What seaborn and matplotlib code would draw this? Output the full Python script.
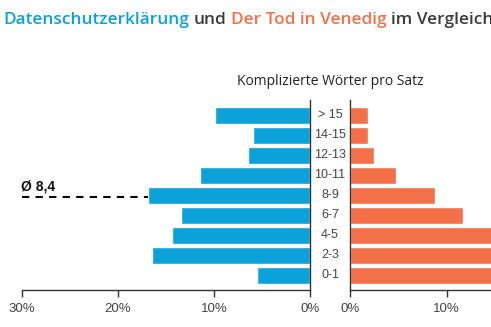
import matplotlib
matplotlib.use("Agg")
import matplotlib.pyplot as plt
import matplotlib.transforms as mtransforms
import seaborn as sns
import pandas as pd

categories = ["> 15", "14-15", "12-13", "10-11", "8-9", "6-7", "4-5", "2-3", "0-1"]
datenschutz = [9.9, 5.9, 6.4, 11.4, 16.8, 13.4, 14.4, 16.4, 5.5]
tod_venedig = [1.8, 1.8, 2.5, 4.7, 8.8, 11.7, 17.0, 19.5, 15.5]
left_ticks = [30, 20, 10, 0]
right_ticks = [0, 10]
average = 8.4
average_label = "Ø 8,4"

title_parts = [("Datenschutzerklärung", "#0ca1d8"), ("und", "#3a3a3a"),
               ("Der Tod in Venedig", "#f37048"), ("im Vergleich", "#3a3a3a")]
subtitle = "Komplizierte Wörter pro Satz"

BLUE = "#0ca1d8"
ORANGE = "#f37048"
AX_COL = "#333333"
TXT_COL = "#444444"

sns.set_theme(style="white")
plt.rcParams["font.family"] = ["Liberation Sans", "DejaVu Sans"]

df = pd.DataFrame({"cat": categories, "ds": datenschutz, "tv": tod_venedig})

W, H = 491, 327
fig = plt.figure(figsize=(W / 100, H / 100), dpi=100)

def fx(px):
    return px / W

def fy(py):
    return 1 - py / H

ax_l = fig.add_axes([fx(21.5), fy(290), fx(310 - 21.5), (290 - 100) / H])
ax_r = fig.add_axes([fx(350.3), fy(290), fx(96.4 * 2), (290 - 100) / H])

sns.barplot(data=df, y="cat", x="ds", orient="h", color=BLUE, saturation=1,
            width=0.83, ax=ax_l, order=categories)
sns.barplot(data=df, y="cat", x="tv", orient="h", color=ORANGE, saturation=1,
            width=0.83, ax=ax_r, order=categories)

for ax in (ax_l, ax_r):
    ax.set_ylim(len(categories) - 1 + 0.735, -0.765)
    ax.set_xlabel("")
    ax.set_ylabel("")
    ax.set_yticks([])
    ax.spines["top"].set_visible(False)
    for s in ax.spines.values():
        s.set_color(AX_COL)
        s.set_linewidth(1.0)
    ax.tick_params(axis="x", direction="out", length=5, width=1.0, color=AX_COL,
                   labelsize=9.5, labelcolor=TXT_COL, pad=4, bottom=True)
    ax.patch.set_alpha(0)

ax_l.set_xlim(30, 0)
ax_l.spines["left"].set_visible(False)
ax_l.set_xticks(left_ticks)
ax_l.set_xticklabels([f"{t}%" for t in left_ticks])

ax_r.set_xlim(0, 20)
ax_r.spines["right"].set_visible(False)
ax_r.set_xticks(right_ticks)
ax_r.set_xticklabels([f"{t}%" for t in right_ticks])

# category labels centered between the two axes
trans = mtransforms.blended_transform_factory(fig.transFigure, ax_l.transData)
for i, c in enumerate(categories):
    fig.text(fx(330), i, c, transform=trans, ha="center", va="center",
             fontsize=9, color=TXT_COL)

# average marker
avg_pos = (len(categories) - 1) - (average - 0.5) / 2
bar_val = datenschutz[categories.index("8-9")]
ax_l.plot([30, bar_val], [avg_pos + 0.05, avg_pos + 0.05], color="black", lw=1.5,
          dashes=(3.5, 3), clip_on=False, zorder=5)
fig.text(fx(21), fy(186.5), average_label, ha="left", va="center",
         fontsize=10, fontweight="bold", color="#111111")

# subtitle
fig.text(fx(330), fy(81.5), subtitle, ha="center", va="center",
         fontsize=10, color="#222222", family=["Open Sans", "DejaVu Sans"])

# multicolored title
renderer = fig.canvas.get_renderer()
x = fx(3)
title_fs = 12.4
space = 0.27 * title_fs * 100 / 72 / W
for txt, col in title_parts:
    t = fig.text(x, fy(20.5), txt, ha="left", va="center", fontsize=title_fs,
                 color=col, fontweight="semibold",
                 family=["Open Sans", "DejaVu Sans"])
    bb = t.get_window_extent(renderer=renderer)
    x += bb.width / W + space

fig.savefig("out.png", dpi=100)
